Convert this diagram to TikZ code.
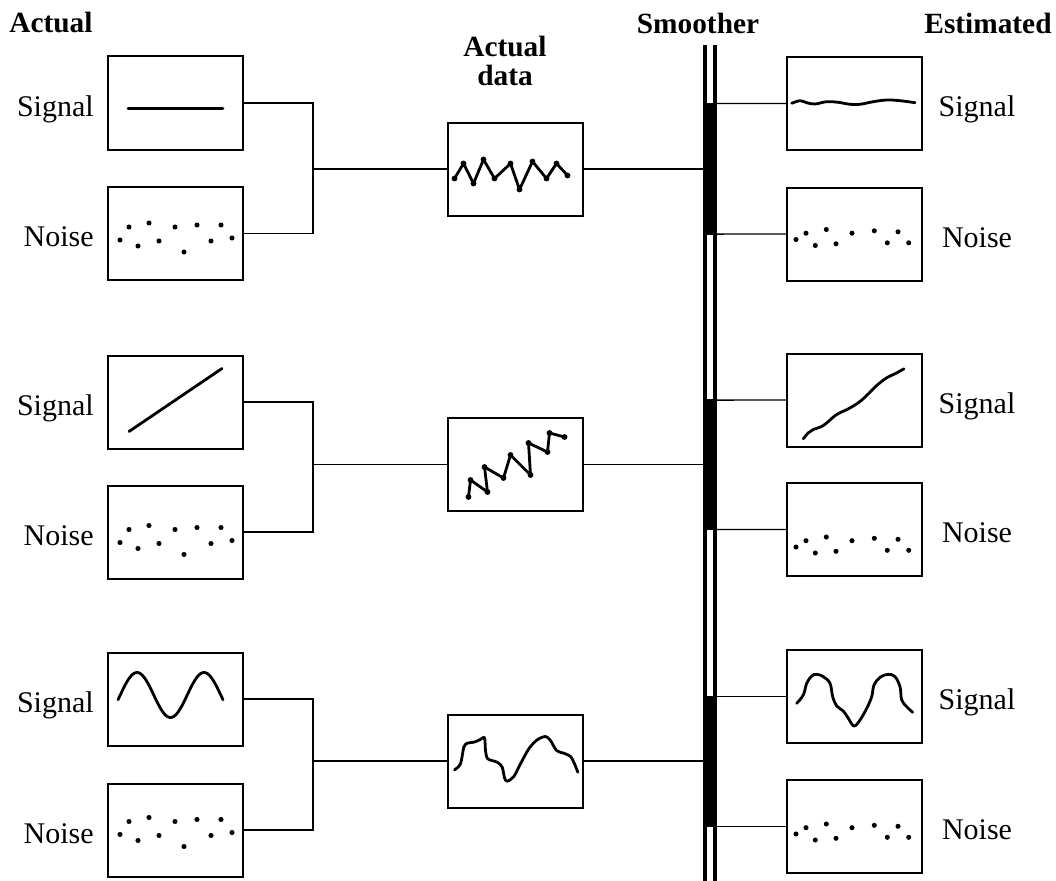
\documentclass[tikz,border=0pt]{standalone}
\usepackage{fontspec}
\setmainfont{Liberation Serif}
\begin{document}
\begin{tikzpicture}[x=0.75pt,y=-0.75pt,
  box/.style={draw, line width=1.5pt, minimum width=101.25pt, minimum height=69.75pt, inner sep=0pt, outer sep=0pt},
  conn/.style={line width=1.1pt},
  curve/.style={line width=2.1pt, line cap=round, line join=round},
  lbl/.style={font=\fontsize{22.5}{22.5}\selectfont, inner sep=0pt},
  hdr/.style={font=\fontsize{22}{21.5}\selectfont\bfseries, inner sep=0pt, align=center},
  smbar/.style={fill=black, draw=black, line width=1pt, minimum width=7.5pt, inner sep=0pt, outer sep=0pt},
  rail/.style={line width=2.4pt}]
\useasboundingbox (0,0) rectangle (1056,881);

% headers
\node[hdr] (h1) at (51,23) {Actual};
\node[hdr] (h2) at (505,61) {Actual\\data};
\node[hdr] (h3) at (698,23) {Smoother};
\node[hdr] (h4) at (988,23) {Estimated};

% left boxes
\node[box] (ls1) at (175.5,103) {};
\node[box] (ln1) at (175.5,233.5) {};
\node[box] (ls2) at (175.5,402) {};
\node[box] (ln2) at (175.5,532) {};
\node[box] (ls3) at (175.5,699) {};
\node[box] (ln3) at (175.5,830) {};
% data boxes
\node[box] (d1) at (515,169) {};
\node[box] (d2) at (515,464.5) {};
\node[box] (d3) at (515,761) {};
% right boxes
\node[box] (rs1) at (854.5,103.5) {};
\node[box] (rn1) at (854.5,234) {};
\node[box] (rs2) at (854.5,400) {};
\node[box] (rn2) at (854.5,529.5) {};
\node[box] (rs3) at (854.5,696.5) {};
\node[box] (rn3) at (854.5,826.5) {};

% labels
\foreach \n/\t/\yy in {a1/Signal/103, b1/Noise/233.5, a2/Signal/402, b2/Noise/532, a3/Signal/699, b3/Noise/830}{
  \node[lbl, anchor=base east] (L\n) at (94,\yy+13) {\t};
}
\foreach \n/\t/\yy in {a1/Signal/103.5, b1/Noise/234, a2/Signal/400, b2/Noise/529.5, a3/Signal/696.5, b3/Noise/826.5}{
  \node[lbl, anchor=base] (R\n) at (977,\yy+13) {\t};
}

% smoother rails and bars
\coordinate (rl1) at (705,45);
\coordinate (rl2) at (705,881);
\coordinate (rr1) at (715,45);
\coordinate (rr2) at (715,881);
\draw[rail] (rl1) -- (rl2);
\draw[rail] (rr1) -- (rr2);
\node[smbar, minimum height=97.9pt] (sm1) at (710,168.75) {};
\node[smbar, minimum height=97.1pt] (sm2) at (710,464.75) {};
\node[smbar, minimum height=97.5pt] (sm3) at (710,761.5) {};

% junctions
\coordinate (j1) at (313,169);
\coordinate (j2) at (313,464.5);
\coordinate (j3) at (313,761);

% connectors left
\draw[conn] (ls1.east) -| (j1) |- (ln1.east);
\draw[conn] (j1) -- (d1.west);
\draw[conn] (ls2.east) -| (j2) |- (ln2.east);
\draw[conn] (j2) -- (d2.west);
\draw[conn] (ls3.east) -| (j3) |- (ln3.east);
\draw[conn] (j3) -- (d3.west);
% connectors to smoother
\draw[conn] (d1.east) -- (d1.east -| sm1.west);
\draw[conn] (d2.east) -- (d2.east -| sm2.west);
\draw[conn] (d3.east) -- (d3.east -| sm3.west);
% smoother to right
\draw[conn] (sm1.north east) -- (rs1.west);
\draw[conn] (sm1.south east) -- (rn1.west);
\draw[conn] (sm2.north east) -- (rs2.west);
\draw[conn] (sm2.south east) -- (rn2.west);
\draw[conn] (sm3.north east) -- (rs3.west);
\draw[conn] (sm3.south east) -- (rn3.west);

% ---- contents ----
% left signals
\begin{scope}[shift={(ls1.north west)}]
  \draw[curve] (20,52) -- (115,52);
\end{scope}
\begin{scope}[shift={(ls2.north west)}]
  \draw[curve] (21,76) -- (114,13);
\end{scope}
\begin{scope}[shift={(ls3.north west)}]
  \draw[curve] plot[domain=10:115, samples=80] (\x,{42.5-22.5*cos(5.3731*(\x-29))});
\end{scope}
% left noise
\foreach \b/\o in {ln1/0, ln2/4, ln3/-2}{
  \begin{scope}[shift={(\b.north west)}, yshift=-0.75*\o pt]
    \foreach \p in {(21,40),(41,36),(67,40),(89,38),(113,38),(12,53),(30,59),(51,54),(76,65),(103,54),(124,51)}
      \fill \p circle (1.9pt);
  \end{scope}
}
% right noise
\foreach \b/\o in {rn1/0, rn2/12, rn3/2}{
  \begin{scope}[shift={(\b.north west)}, yshift=-0.75*\o pt]
    \foreach \p in {(9,52),(19,45.7),(28.3,58),(39.3,42),(49,56.3),(65,45.7),(87.3,43.3),(100.3,55.3),(111,44.3),(121.7,55.3)}
      \fill \p circle (1.9pt);
  \end{scope}
}
% data 1
\begin{scope}[shift={(d1.north west)}]
  \draw[curve] plot coordinates {(7,56) (16,41) (26,61) (36,37) (47,56) (63,41) (72,67) (85,39) (99,56) (109,41) (120,53)};
  \foreach \p in {(7,56),(16,41),(26,61),(36,37),(47,56),(63,41),(72,67),(85,39),(99,56),(109,41),(120,53)}
    \fill \p circle (2.2pt);
\end{scope}
% data 2
\begin{scope}[shift={(d2.north west)}]
  \draw[curve] plot coordinates {(21,79) (23,62) (40,74) (37,49) (56,60) (63,37) (83,57) (81,25) (100,34) (102,15) (117,19)};
  \foreach \p in {(21,79),(23,62),(40,74),(37,49),(56,60),(63,37),(83,57),(81,25),(100,34),(102,15),(117,19)}
    \fill \p circle (2.2pt);
\end{scope}
% data 3
\begin{scope}[shift={(d3.north west)}]
  \draw[curve] plot[smooth, tension=0.5] coordinates {(7,55.3) (13,49.3) (16.3,32.7) (19.7,28.7) (26.3,27.7) (32.3,25.3) (37,23.3) (38,36) (40.3,44.3) (49.7,47.7) (54.7,52.7) (57,63.3) (59.7,66.7) (66.3,62) (73,49.3) (81.3,34.3) (89.7,25.3) (98,22) (103,26) (109,36) (116.3,38.7) (123,42) (127,49.3) (130.3,57.7)};
\end{scope}
% right signals
\begin{scope}[shift={(rs1.north west)}]
  \draw[curve] plot[smooth, tension=0.6] coordinates {(4.7,46.3) (13,43.7) (19.7,45.7) (28,47) (39.7,44.7) (51.3,45.3) (63,47.3) (73,47.3) (86.3,44.7) (99.7,43) (113,43.7) (128,45.7)};
\end{scope}
\begin{scope}[shift={(rs2.north west)}]
  \draw[curve] plot[smooth, tension=0.6] coordinates {(16.3,85.3) (21.3,79.3) (26.3,76) (34.7,73) (41.3,68) (49.7,61) (61.3,55.3) (71.3,49.3) (79.7,42) (89.7,32) (99.7,24.3) (108,20.3) (117,15.3)};
\end{scope}
\begin{scope}[shift={(rs3.north west)}]
  \draw[curve] plot[smooth, tension=0.6] coordinates {(9.7,53.3) (16.3,45) (19.7,33.3) (24.7,26) (29.7,24.3) (36.3,26.7) (43,33.3) (45.7,46.7) (49.7,56) (56.3,61) (61.3,68.3) (67,76) (73,70) (79.7,58.3) (84.7,46.7) (87,35) (93,27.3) (101.3,24.3) (108,26.7) (113,36.7) (114.7,50) (119.7,56.7) (125.7,62.3)};
\end{scope}
\end{tikzpicture}
\end{document}
